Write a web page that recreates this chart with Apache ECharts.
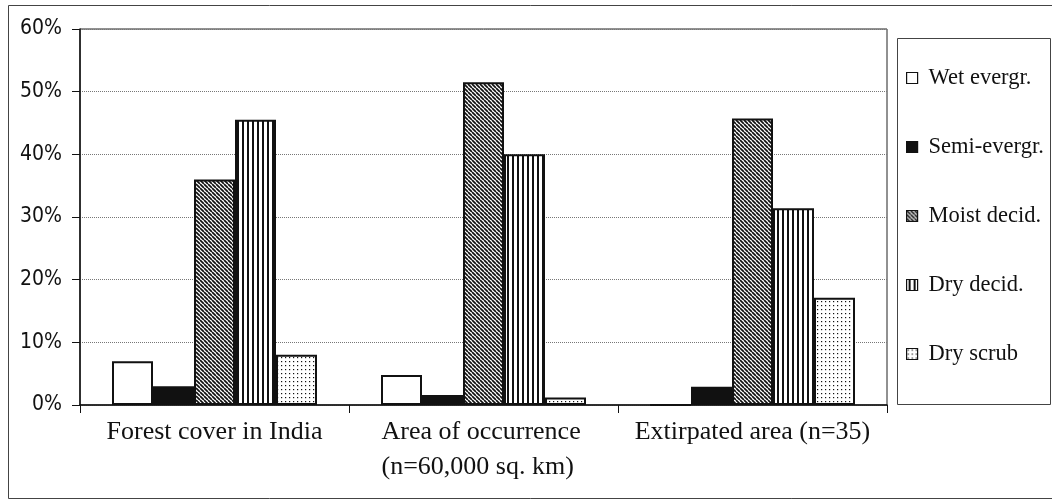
<!DOCTYPE html>
<html>
<head>
<meta charset="utf-8">
<script src="https://cdn.jsdelivr.net/npm/echarts@6/dist/echarts.min.js"></script>
<style>
  html, body { margin: 0; padding: 0; background: #fff; }
  #chart { width: 1052px; height: 504px; }
</style>
</head>
<body>
<div id="chart"></div>
<script>
// Share of each forest type, in percent
const categories = ['Forest cover in India', 'Area of occurrence\n(n=60,000 sq. km)', 'Extirpated area (n=35)'];
const seriesNames = ['Wet evergr.', 'Semi-evergr.', 'Moist decid.', 'Dry decid.', 'Dry scrub'];
const wetEvergreen = [7, 4.8, 0];
const semiEvergreen = [3, 1.6, 2.9];
const moistDeciduous = [36, 51.5, 45.7];
const dryDeciduous = [45.5, 40, 31.4];
const dryScrub = [8, 1.2, 17.1];
const yTicks = [0, 10, 20, 30, 40, 50, 60];

// Fill patterns drawn on small tiles
function makePattern(w, h, draw) {
  const c = document.createElement('canvas');
  c.width = w; c.height = h;
  const ctx = c.getContext('2d');
  ctx.fillStyle = '#fff';
  ctx.fillRect(0, 0, w, h);
  ctx.fillStyle = '#111';
  ctx.strokeStyle = '#111';
  draw(ctx, w, h);
  return { image: c, repeat: 'repeat' };
}
const diagonal = makePattern(4, 4, (ctx, w) => {
  ctx.lineWidth = 1.7;
  ctx.beginPath();
  for (let k = -w; k <= w; k += w) { ctx.moveTo(k, 0); ctx.lineTo(k + w, w); }
  ctx.stroke();
});
const vertical = makePattern(5, 4, (ctx) => { ctx.fillRect(2, 0, 2, 4); });
const dots = makePattern(4, 4, (ctx) => { ctx.fillRect(1, 1, 1.2, 1.2); });

const fills = ['#ffffff', '#111111', diagonal, vertical, dots];
const values = [wetEvergreen, semiEvergreen, moistDeciduous, dryDeciduous, dryScrub];

const chart = echarts.init(document.getElementById('chart'), null, { renderer: 'canvas' });
const serif = "'Liberation Serif', 'Times New Roman', serif";
const narrow = "'Liberation Sans Narrow', 'DejaVu Sans Condensed', 'Liberation Sans', sans-serif";

// Category labels: a two-line label keeps both lines flush left
function categoryLabel(value) {
  const lines = value.split('\n');
  if (lines.length < 2) return '{a|' + value + '}';
  return lines.map(l => '{b|' + l + '}').join('\n');
}

chart.setOption({
  animation: false,
  backgroundColor: '#fff',
  grid: {
    left: 80, right: 165, top: 29, bottom: 99,
    show: true, borderColor: '#222', borderWidth: 1
  },
  legend: {
    orient: 'vertical',
    left: 906, top: 66,
    padding: 0,
    itemWidth: 11, itemHeight: 11, itemGap: 45,
    icon: 'rect',
    data: seriesNames,
    itemStyle: { borderColor: '#111', borderWidth: 1.2 },
    textStyle: { fontFamily: serif, fontSize: 22.5, color: '#111', lineHeight: 24, padding: [0, 0, 0, 6] }
  },
  xAxis: {
    type: 'category',
    data: categories,
    axisLine: { lineStyle: { color: '#111', width: 1.5 } },
    axisTick: { show: true, length: 8, lineStyle: { color: '#111' } },
    axisLabel: {
      interval: 0,
      margin: 10,
      formatter: categoryLabel,
      rich: {
        a: { fontFamily: serif, fontSize: 26, color: '#111', lineHeight: 35 },
        b: { fontFamily: serif, fontSize: 26, color: '#111', lineHeight: 35, width: 204, align: 'left' }
      }
    }
  },
  yAxis: {
    type: 'value',
    min: yTicks[0], max: yTicks[yTicks.length - 1], interval: 10,
    axisLine: { show: true, lineStyle: { color: '#111', width: 1.5 } },
    axisTick: { show: true, length: 8, lineStyle: { color: '#111' } },
    axisLabel: { formatter: '{value}%', fontFamily: narrow, fontSize: 21, color: '#111', margin: 18 },
    splitLine: { lineStyle: { color: '#777', type: 'dotted', width: 1 } }
  },
  series: seriesNames.map((name, i) => ({
    name,
    type: 'bar',
    data: values[i],
    barWidth: 41,
    barGap: '0%',
    itemStyle: { color: fills[i], borderColor: '#111', borderWidth: 2 }
  })),
  graphic: [
    { type: 'rect', silent: true, shape: { x: 8.5, y: 5.5, width: 1060, height: 493 },
      style: { fill: 'none', stroke: '#444', lineWidth: 1 } },
    { type: 'rect', silent: true, shape: { x: 897.5, y: 38.5, width: 153, height: 366 },
      style: { fill: 'none', stroke: '#444', lineWidth: 1 } }
  ]
});
</script>
</body>
</html>
